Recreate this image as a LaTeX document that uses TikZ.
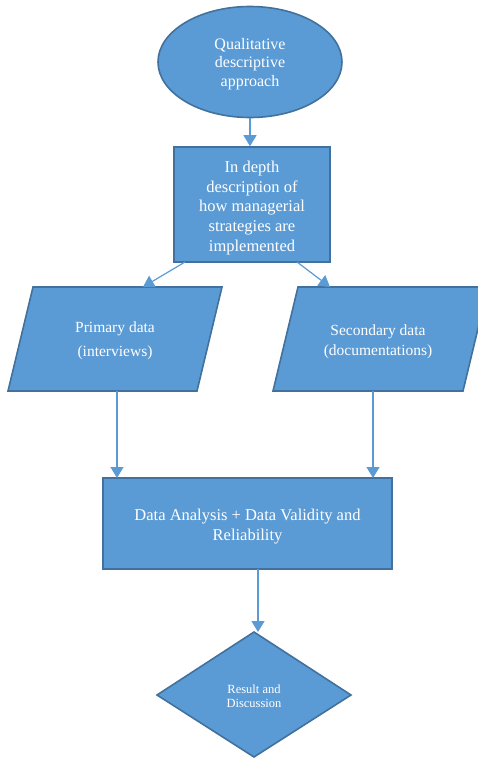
\documentclass[tikz,border=0pt]{standalone}
\usepackage{fontspec}
\setmainfont{Liberation Serif}
\usetikzlibrary{shapes.geometric,arrows.meta}
\definecolor{boxfill}{HTML}{5B9BD5}
\definecolor{boxline}{HTML}{41719C}
\definecolor{arrowcol}{HTML}{5B9BD5}
\begin{document}
\begin{tikzpicture}[x=1pt,y=-1pt,
  shapebox/.style={fill=boxfill,draw=boxline,line width=1.6pt},
  txt/.style={text=white,align=center,font=\fontsize{16}{18.5}\selectfont},
  conn/.style={draw=arrowcol,line width=1.2pt,-{Triangle[width=13pt,length=11pt]}}]
\useasboundingbox (0,0) rectangle (478,760);
\clip (0,0) rectangle (478,760);
% ellipse
\node[shapebox,ellipse,minimum width=184pt,minimum height=111pt,inner sep=0pt] (ell) at (250,62) {};
\node[txt] at (250,64) {Qualitative\\descriptive\\approach};
% rect 1
\node[shapebox,rectangle,minimum width=156pt,minimum height=115pt,inner sep=0pt] (desc) at (252,204.5) {};
\node[txt,font=\fontsize{16.5}{19.7}\selectfont] at (252,208) {In depth\\description of\\how managerial\\strategies are\\implemented};
% parallelograms
\draw[shapebox] (33,287) -- (222,287) -- (197,391) -- (8,391) -- cycle;
\node[txt,font=\fontsize{15.5}{24}\selectfont] (prim) at (115,341) {Primary data\\(interviews)};
\draw[shapebox] (298,287) -- (488,287) -- (463,391) -- (273,391) -- cycle;
\node[txt,font=\fontsize{15.5}{20}\selectfont] (sec) at (378,342) {Secondary data\\(documentations)};
\coordinate (primtop) at (143,287);
\coordinate (sectop) at (330,287);
\coordinate (primbot) at (117,391);
\coordinate (secbot) at (373,391);
\coordinate (desca) at (185,262);
\coordinate (descb) at (297,262);
% analysis rect
\node[shapebox,rectangle,minimum width=289pt,minimum height=91pt,inner sep=0pt] (ana) at (247.5,523.5) {};
\node[txt,font=\fontsize{16.5}{20}\selectfont] at (247.5,527) {Data Analysis + Data Validity and\\Reliability};
\coordinate (anaa) at (117,478);
\coordinate (anab) at (373,478);
\coordinate (anabot) at (258,569);
% diamond
\draw[shapebox] (254,632) -- (351,695) -- (254,757) -- (157,695) -- cycle;
\node[txt,font=\fontsize{12.5}{14.5}\selectfont] (res) at (254,696) {Result and\\Discussion};
\coordinate (restop) at (258,632);
% connectors
\draw[conn] (ell.south) -- (ell.south |- desc.north);
\draw[conn] (desca) -- (primtop);
\draw[conn] (descb) -- (sectop);
\draw[conn] (primbot) -- (anaa);
\draw[conn] (secbot) -- (anab);
\draw[conn] (anabot) -- (restop);
\end{tikzpicture}
\end{document}
